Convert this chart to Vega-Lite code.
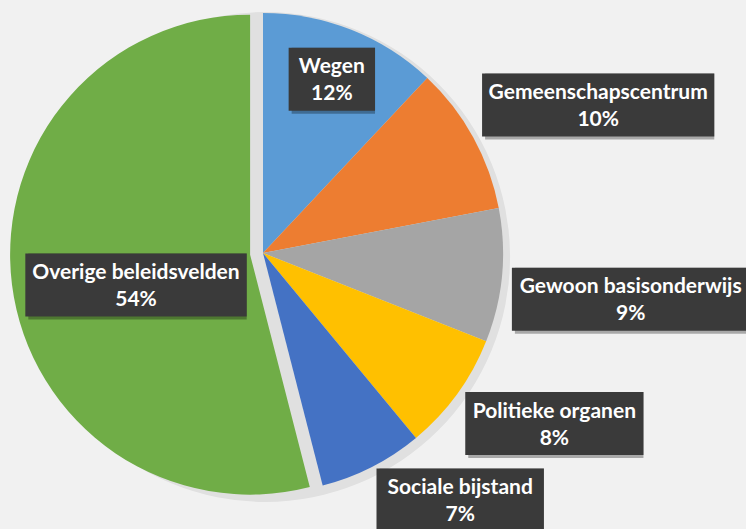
{
  "$schema": "https://vega.github.io/schema/vega-lite/v6.json",
  "width": 480,
  "height": 480,
  "autosize": {"type": "none"},
  "padding": {"left": 23, "top": 13, "right": 243, "bottom": 36},
  "background": "#f1f1f1",
  "config": {"view": {"stroke": null}},
  "data": {
    "values": [
      {"cat": "Wegen", "value": 12, "order": 1},
      {"cat": "Gemeenschapscentrum", "value": 10, "order": 2},
      {"cat": "Gewoon basisonderwijs", "value": 9, "order": 3},
      {"cat": "Politieke organen", "value": 8, "order": 4},
      {"cat": "Sociale bijstand", "value": 7, "order": 5},
      {"cat": "Overige beleidsvelden", "value": 54, "order": 6}
    ]
  },
  "transform": [
    {"stack": "value", "groupby": [], "sort": [{"field": "order", "order": "ascending"}], "as": ["t0", "t1"]},
    {"calculate": "(datum.t0 + datum.t1) * PI / 100", "as": "mid"},
    {"calculate": "datum.cat === 'Overige beleidsvelden' ? 13 : 0", "as": "explode"},
    {"calculate": "datum.explode * sin(datum.mid)", "as": "ex"},
    {"calculate": "datum.explode * cos(datum.mid)", "as": "ey"},
    {"calculate": "datum.cat === 'Wegen' || datum.cat === 'Overige beleidsvelden'", "as": "inside"},
    {"calculate": "length(datum.cat) - length(replace(datum.cat, regexp('[ijltfr ]', 'g'), ''))", "as": "nn"},
    {"calculate": "length(datum.cat) - length(replace(datum.cat, regexp('[mwMW]', 'g'), ''))", "as": "nw"},
    {"calculate": "10.8 * (length(datum.cat) - 0.5 * datum.nn + 0.5 * datum.nw) + 27", "as": "bw"},
    {"calculate": "datum.cat === 'Wegen' ? 187 : 115", "as": "rin"},
    {"calculate": "datum.cat === 'Overige beleidsvelden' ? -16 : 0", "as": "adj"},
    {"calculate": "datum.inside ? datum.ex + datum.rin * sin(datum.mid) : 250 * sin(datum.mid) + datum.bw / 2", "as": "cx"},
    {"calculate": "datum.inside ? datum.ey + datum.rin * cos(datum.mid) + datum.adj : 252 * cos(datum.mid) + (datum.mid < PI / 2 ? 26.5 : -22.5)", "as": "cy"},
    {"calculate": "datum.cx - datum.bw / 2", "as": "x0"},
    {"calculate": "datum.cx + datum.bw / 2", "as": "x1"},
    {"calculate": "datum.cy - 31.5", "as": "y0"},
    {"calculate": "datum.cy + 31.5", "as": "y1"},
    {"calculate": "datum.value + '%'", "as": "pct"}
  ],
  "layer": [
    {
      "transform": [{"aggregate": [{"op": "sum", "field": "value", "as": "total"}]}],
      "mark": {"type": "arc", "radius": 245, "color": "#000000", "opacity": 0.07, "xOffset": 2, "yOffset": 4},
      "encoding": {
        "theta": {"field": "total", "type": "quantitative", "stack": true, "scale": {"domain": [0, 100]}}
      }
    },
    {
      "mark": {"type": "arc", "radius": 240},
      "encoding": {
        "theta": {"field": "t0", "type": "quantitative", "stack": null, "scale": {"domain": [0, 100]}},
        "theta2": {"field": "t1"},
        "x": {"field": "ex", "type": "quantitative", "axis": null, "scale": {"domain": [-240, 240], "nice": false, "zero": false}},
        "y": {"field": "ey", "type": "quantitative", "axis": null, "scale": {"domain": [-240, 240], "nice": false, "zero": false}},
        "color": {
          "field": "cat",
          "type": "nominal",
          "legend": null,
          "scale": {
            "domain": ["Wegen", "Gemeenschapscentrum", "Gewoon basisonderwijs", "Politieke organen", "Sociale bijstand", "Overige beleidsvelden"],
            "range": ["#5B9BD5", "#ED7D31", "#A5A5A5", "#FFC000", "#4472C4", "#70AD47"]
          }
        }
      }
    },
    {
      "mark": {"type": "rect", "color": "#000000", "opacity": 0.3, "xOffset": 3, "yOffset": 3},
      "encoding": {
        "x": {"field": "x0", "type": "quantitative"},
        "x2": {"field": "x1"},
        "y": {"field": "y0", "type": "quantitative"},
        "y2": {"field": "y1"}
      }
    },
    {
      "mark": {"type": "rect", "color": "#3a3a3a", "opacity": 1},
      "encoding": {
        "x": {"field": "x0", "type": "quantitative"},
        "x2": {"field": "x1"},
        "y": {"field": "y0", "type": "quantitative"},
        "y2": {"field": "y1"}
      }
    },
    {
      "mark": {"type": "text", "font": "Lato", "fontWeight": "bold", "fontSize": 21, "color": "#ffffff", "align": "center", "baseline": "alphabetic", "dy": -6},
      "encoding": {
        "x": {"field": "cx", "type": "quantitative"},
        "y": {"field": "cy", "type": "quantitative"},
        "text": {"field": "cat"}
      }
    },
    {
      "mark": {"type": "text", "font": "Lato", "fontWeight": "bold", "fontSize": 21, "color": "#ffffff", "align": "center", "baseline": "alphabetic", "dy": 21},
      "encoding": {
        "x": {"field": "cx", "type": "quantitative"},
        "y": {"field": "cy", "type": "quantitative"},
        "text": {"field": "pct"}
      }
    }
  ]
}
